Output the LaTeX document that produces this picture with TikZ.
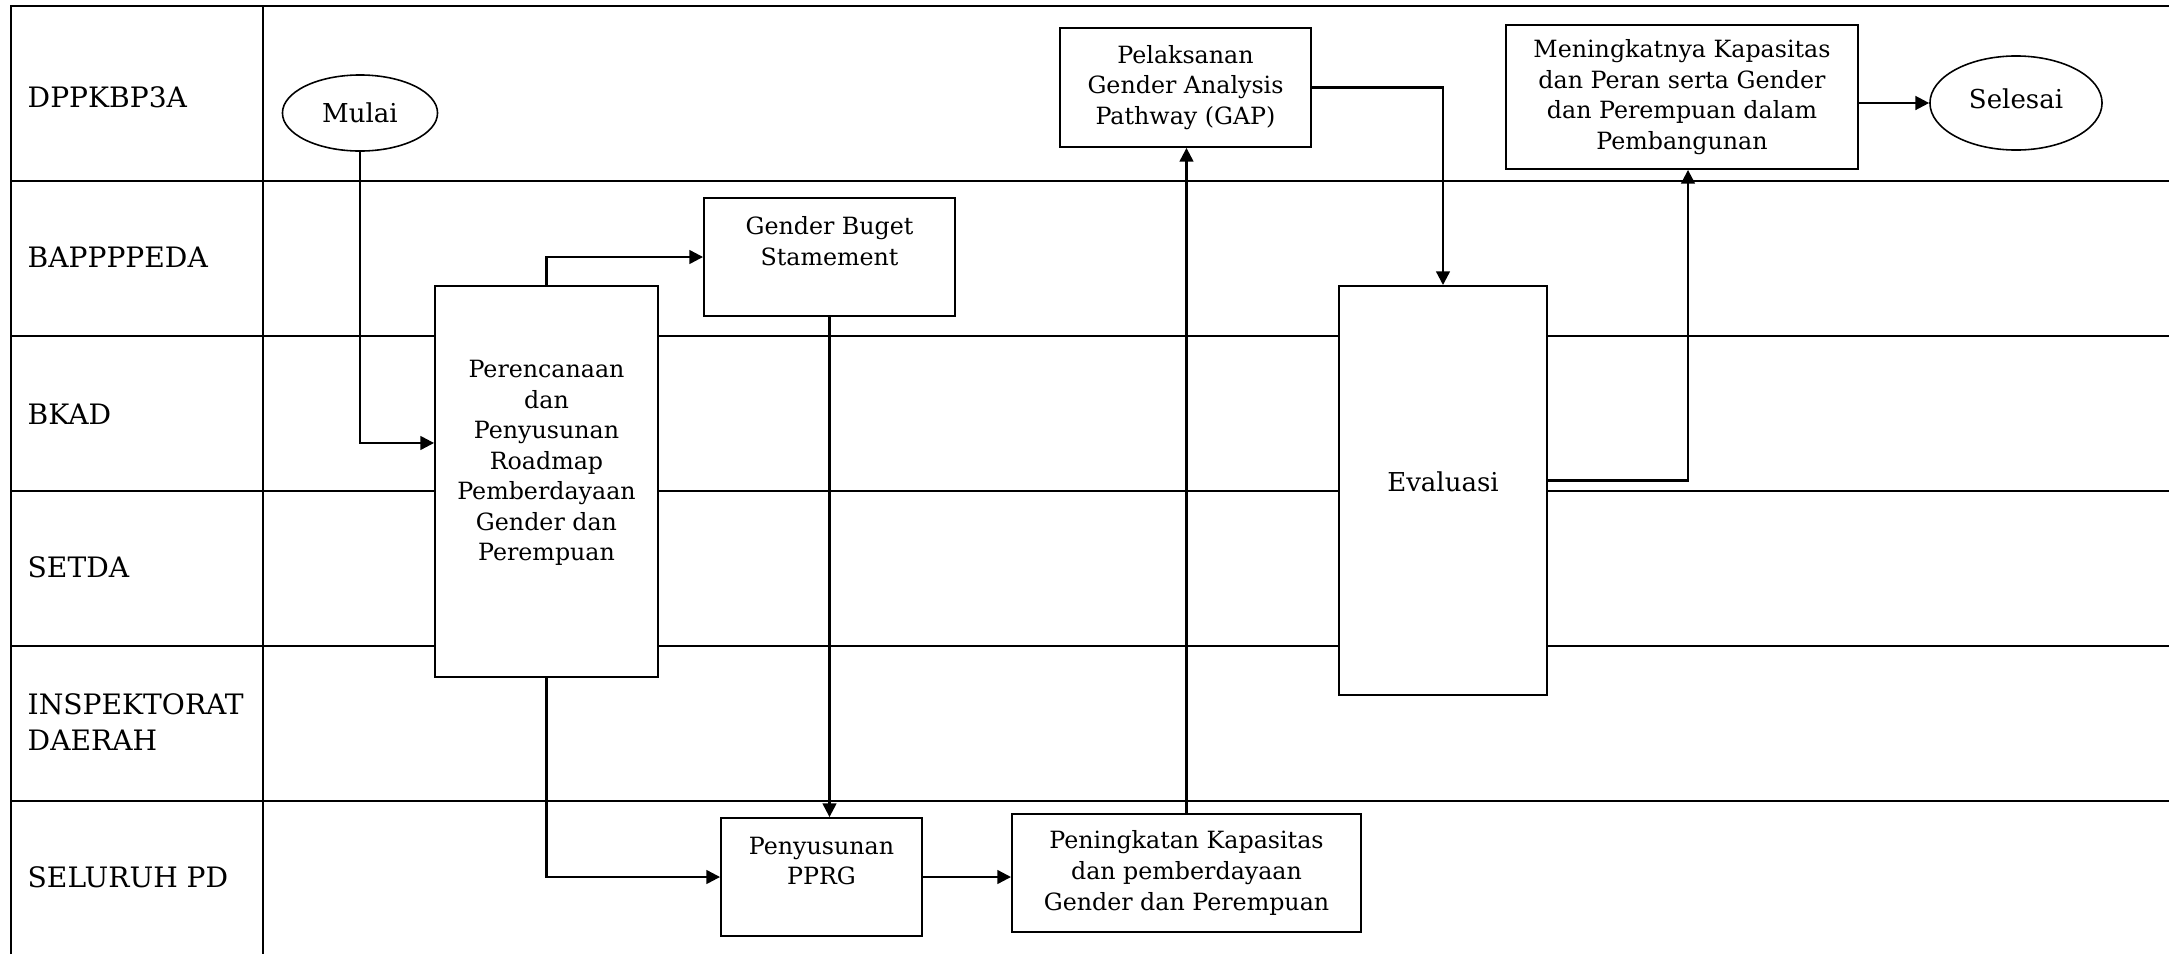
\documentclass[tikz,border=0pt]{standalone}
\usepackage{fontspec}
\setmainfont{DejaVu Serif}
\usetikzlibrary{arrows.meta,shapes.geometric}

\newcommand\lnfont{\fontsize{8}{10}\selectfont}
\newcommand\tmfont{\fontsize{7.4}{9}\selectfont}
\newcommand\bxfont{\fontsize{6.75}{8.7}\selectfont}

\begin{document}
\begin{tikzpicture}[x=0.01cm,y=-0.01cm,
  lane/.style={line width=0.7pt},
  lanelbl/.style={anchor=west,align=left,font=\lnfont,inner sep=0pt},
  box/.style={draw,line width=0.5pt,fill=white,inner sep=0pt,align=center,font=\bxfont},
  txt/.style={inner sep=0pt,align=center,font=\bxfont},
  term/.style={ellipse,draw,line width=0.45pt,fill=white,inner sep=0pt,font=\tmfont},
  flow/.style={line width=0.65pt,-{Triangle[length=3.9pt,width=3.9pt]}}]

\useasboundingbox (0,0) rectangle (2169,954);

% swimlane grid
\draw[lane] (11,954) -- (11,6) -- (2169,6);
\draw[lane] (263,6) -- (263,954);
\foreach \yy in {181,336,491,646,801}
  \draw[lane] (11,\yy) -- (2169,\yy);

% lane titles
\node[lanelbl] (l1) at (27,97)  {DPPKBP3A};
\node[lanelbl] (l2) at (27,257) {BAPPPPEDA};
\node[lanelbl] (l3) at (27,414) {BKAD};
\node[lanelbl] (l4) at (27,567) {SETDA};
\node[lanelbl] (l5) at (27,722) {INSPEKTORAT\\DAERAH};
\node[lanelbl] (l6) at (27,877) {SELURUH PD};

% process steps
\node[term,minimum width=1.55cm,minimum height=0.76cm] (mulai) at (360,113) {Mulai};
\node[term,minimum width=1.72cm,minimum height=0.94cm] (selesai) at (2016,103) {};
\node[inner sep=0pt,font=\tmfont] (selesaitxt) at (2016,99) {Selesai};

\node[box,minimum width=2.23cm,minimum height=3.91cm] (plan) at (546.5,481.5) {};
\node[txt] (plantxt) at (546.5,463) {Perencanaan\\dan\\Penyusunan\\Roadmap\\Pemberdayaan\\Gender dan\\Perempuan};

\node[box,minimum width=2.51cm,minimum height=1.18cm] (gbs) at (829.5,257) {};
\node[txt] (gbstxt) at (829.5,241) {Gender Buget\\Stamement};

\node[box,minimum width=2.51cm,minimum height=1.19cm] (gap) at (1185.5,87.5)
  {Pelaksanan\\Gender Analysis\\Pathway (GAP)};

\node[box,minimum width=3.52cm,minimum height=1.44cm] (mening) at (1682,97)
  {Meningkatnya Kapasitas\\dan Peran serta Gender\\dan Perempuan dalam\\Pembangunan};

\node[box,minimum width=2.08cm,minimum height=4.09cm] (eval) at (1443,490.5) {};
\node[txt,font=\tmfont] (evaltxt) at (1443,482) {Evaluasi};

\node[box,minimum width=2.01cm,minimum height=1.18cm] (pprg) at (821.5,877) {};
\node[txt] (pprgtxt) at (821.5,861) {Penyusunan\\PPRG};

\node[box,minimum width=3.49cm,minimum height=1.18cm] (ping) at (1186.5,873)
  {Peningkatan Kapasitas\\dan pemberdayaan\\Gender dan Perempuan};

% connectors
\draw[flow] (mulai.south) |- ([yshift=0.385cm]plan.west);
\draw[flow] (plan.north) |- (gbs.west);
\draw[flow] (plan.south) |- (pprg.west);
\draw[flow] (gbs.south) -- (gbs.south |- pprg.north);
\draw[flow] (pprg.east) -- (pprg.east -| ping.west);
\draw[flow] (ping.north) -- (ping.north |- gap.south);
\draw[flow] (gap.east) -| (eval.north);
\draw[flow] ([yshift=0.1cm]eval.east) -| ([xshift=0.06cm]mening.south);
\draw[flow] (mening.east |- selesai.west) -- (selesai.west);

\end{tikzpicture}
\end{document}
